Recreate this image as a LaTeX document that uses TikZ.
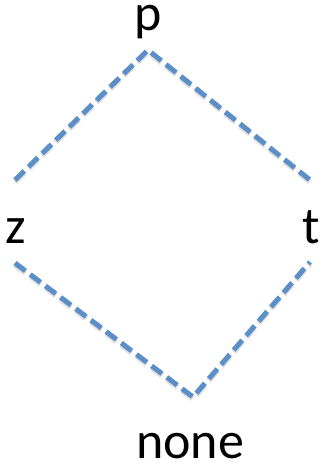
\documentclass[tikz,border=0pt]{standalone}
\usepackage{fontspec}
\setmainfont{Carlito}
\definecolor{dashblue}{RGB}{92,143,200}
\begin{document}
\begin{tikzpicture}[x=1pt,y=-1pt,
  lbl/.style={inner sep=0pt,anchor=base,font=\fontsize{52}{60}\selectfont},
  conn/.style={draw=dashblue,line width=5pt,dash pattern=on 13pt off 6pt},
  shad/.style={draw=black!25,opacity=0.5,line width=5.5pt,dash pattern=on 13pt off 6pt}]
\useasboundingbox (0,0) rectangle (323,465);
\node[lbl] (p) at (148,31) {p};
\node[lbl] (z) at (16,243) {z};
\node[lbl] (t) at (311,243) {t};
\node[lbl] (none) at (190,458) {none};
\coordinate (a1) at (15,180);
\coordinate (top) at (148,50);
\coordinate (a2) at (310,180);
\coordinate (b1) at (15,263);
\coordinate (bot) at (193,397);
\coordinate (b2) at (310,262);
\draw[shad,transform canvas={yshift=-2pt}] (a1) -- (top) -- (a2);
\draw[shad,transform canvas={yshift=-2pt}] (b1) -- (bot) -- (b2);
\draw[conn] (a1) -- (top) -- (a2);
\draw[conn] (b1) -- (bot) -- (b2);
\end{tikzpicture}
\end{document}
